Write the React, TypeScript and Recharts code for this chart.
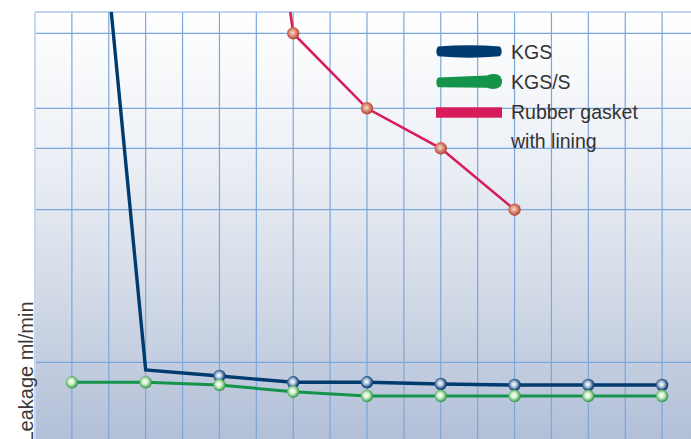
import React from 'react';
import { LineChart, Line, XAxis, YAxis, CartesianGrid, Legend, ReferenceLine } from 'recharts';

// x positions (category index)
const categories = [0, 1, 2, 3, 4, 5, 6, 7, 8];
const kgs = [172, 18.4, 17.2, 15.94, 15.94, 15.6, 15.4, 15.4, 15.4];
const kgsS = [15.94, 15.94, 15.4, 14.06, 13.2, 13.2, 13.2, 13.2, 13.2];
const rubber: (number | null)[] = [null, null, 192, 85.74, 70.74, 62.74, 50.46, null, null];
const yGridValues = [19.94, 50.46, 62.74, 70.74, 85.74];
const xGridValues = [-0.5, 0, 0.5, 1, 1.5, 2, 2.5, 3, 3.5, 4, 4.5, 5, 5.5, 6, 6.5, 7, 7.5, 8, 8.5];
const seriesNames = ['KGS', 'KGS/S', 'Rubber gasket', 'with lining'];
const yLabel = 'Leakage ml/min';

const data = categories.map((x, i) => ({ x, kgs: kgs[i], kgsS: kgsS[i], rubber: rubber[i] }));

const BLUE = '#003b6f';
const GREEN = '#13944a';
const RED = '#d81b5b';
const GRID = '#7ba7dc';
const FONT = '"Liberation Sans", Arial, Helvetica, sans-serif';

const makeDot = (grad: string, skip: number[] = []) => (props: any) => {
  const { cx, cy, index, value } = props;
  if (cx == null || cy == null || value == null || skip.includes(index)) {
    return <g key={`d-${grad}-${index}`} />;
  }
  return <circle key={`d-${grad}-${index}`} cx={cx} cy={cy} r={6.2} fill={`url(#${grad})`} />;
};

const LegendContent = () => (
  <svg width={720} height={170} style={{ display: 'block' }}>
    <path d="M438,46.5 Q469,43.8 500,46.5 Q503.5,51.4 500,56.3 Q469,59 438,56.3 Q434.5,51.4 438,46.5 Z" fill={BLUE} />
    <path d="M438,77.5 Q462,76.5 487,75.5 Q496,72.3 500.5,76.5 Q503.5,81.5 500.5,86.5 Q496,90.7 487,87.8 Q462,87.6 438,87.2 Q434.5,82.3 438,77.5 Z" fill={GREEN} />
    <rect x={436} y={107.3} width={66} height={10.4} fill={RED} />
    <g fontFamily={FONT} fontSize={19.5} fill="#333">
      <text x={511} y={59}>{seriesNames[0]}</text>
      <text x={511} y={89}>{seriesNames[1]}</text>
      <text x={511} y={118.5}>{seriesNames[2]}</text>
      <text x={511} y={148}>{seriesNames[3]}</text>
    </g>
  </svg>
);

const YLabel = () => (
  <text
    x={26}
    y={372}
    transform="rotate(-90 26 372)"
    textAnchor="middle"
    dominantBaseline="central"
    fontFamily={FONT}
    fontSize={20}
    fill="#3a3a3a"
  >
    {yLabel}
  </text>
);

export default function App() {
  return (
    <div style={{ position: 'absolute', left: 0, top: 0, width: 691, height: 439, overflow: 'hidden', background: '#fff' }}>
      <LineChart width={720} height={480} data={data} margin={{ top: 12, right: 21, bottom: 18, left: 0 }}>
        <defs>
          <linearGradient id="bgGrad" x1="0" y1="0" x2="0" y2="1">
            <stop offset="0" stopColor="#ffffff" />
            <stop offset="0.3" stopColor="#eef1f6" />
            <stop offset="0.6" stopColor="#d5dce8" />
            <stop offset="1" stopColor="#adbbd5" />
          </linearGradient>
          <radialGradient id="dotBlue" cx="0.45" cy="0.45" r="0.55">
            <stop offset="0" stopColor="#ffffff" />
            <stop offset="0.4" stopColor="#b3c7dd" />
            <stop offset="0.78" stopColor="#2b5a8b" />
            <stop offset="1" stopColor="#0b3866" />
          </radialGradient>
          <radialGradient id="dotGreen" cx="0.45" cy="0.45" r="0.55">
            <stop offset="0" stopColor="#ffffff" />
            <stop offset="0.4" stopColor="#d8efd1" />
            <stop offset="0.78" stopColor="#62b86f" />
            <stop offset="1" stopColor="#2e9148" />
          </radialGradient>
          <radialGradient id="dotRed" cx="0.45" cy="0.45" r="0.55">
            <stop offset="0" stopColor="#f8dcd2" />
            <stop offset="0.4" stopColor="#e09c88" />
            <stop offset="0.8" stopColor="#c85a48" />
            <stop offset="1" stopColor="#a8413a" />
          </radialGradient>
        </defs>
        <CartesianGrid
          fill="url(#bgGrad)"
          fillOpacity={1}
          stroke={GRID}
          strokeWidth={1.2}
          strokeDasharray=""
          horizontal={false}
          verticalValues={xGridValues}
        />
        <XAxis dataKey="x" type="number" domain={[-0.5, 8.5]} ticks={xGridValues} hide allowDataOverflow />
        <YAxis
          type="number"
          width={35}
          domain={[0, 90]}
          tick={false}
          tickLine={false}
          axisLine={false}
          allowDataOverflow
          label={{ content: () => <YLabel /> }}
        />
        {yGridValues.map((v) => (
          <ReferenceLine key={`h-${v}`} y={v} stroke={GRID} strokeWidth={1.2} />
        ))}
        <ReferenceLine y={90} stroke="#a9c6ea" strokeWidth={1.5} />
        <ReferenceLine x={-0.5} stroke="#c9d7ed" strokeWidth={2} />
        <Line dataKey="kgs" stroke={BLUE} strokeWidth={3.4} dot={makeDot('dotBlue', [1])} activeDot={false} isAnimationActive={false} />
        <Line dataKey="kgsS" stroke={GREEN} strokeWidth={3} dot={makeDot('dotGreen')} activeDot={false} isAnimationActive={false} />
        <Line dataKey="rubber" stroke={RED} strokeWidth={2.6} dot={makeDot('dotRed')} activeDot={false} isAnimationActive={false} connectNulls={false} />
        <Legend
          layout="vertical"
          align="center"
          verticalAlign="middle"
          content={() => <LegendContent />}
          wrapperStyle={{ position: 'absolute', left: 0, top: 0, width: 720, height: 170 }}
        />
      </LineChart>
    </div>
  );
}
